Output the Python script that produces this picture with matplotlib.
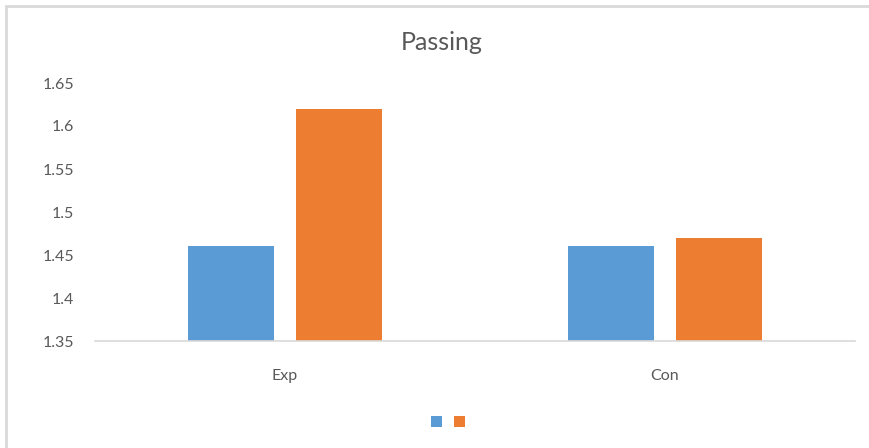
import matplotlib.pyplot as plt
from matplotlib.patches import Patch, Rectangle
import numpy as np

categories = ["Exp", "Con"]
series_a = [1.46, 1.46]
series_b = [1.62, 1.47]
y_ticks = [1.35, 1.4, 1.45, 1.5, 1.55, 1.6, 1.65]
y_tick_labels = ["1.35", "1.4", "1.45", "1.5", "1.55", "1.6", "1.65"]

blue = "#5B9BD5"
orange = "#ED7D31"
text_gray = "#595959"

plt.rcParams["font.family"] = ["Lato", "DejaVu Sans"]

fig = plt.figure(figsize=(8.69, 4.48), dpi=100)
ax = fig.add_axes([95 / 869, 1 - 341 / 448, 760 / 869, 258 / 448])

x = np.arange(len(categories))
width = 0.224
gap = 0.06
ax.bar(x - (width + gap) / 2, series_a, width, color=blue, bottom=0)
ax.bar(x + (width + gap) / 2, series_b, width, color=orange, bottom=0)

ax.set_xlim(-0.5, 1.5)
ax.set_ylim(1.35, 1.65)
ax.set_yticks(y_ticks)
ax.set_yticklabels(y_tick_labels)
ax.set_xticks(x)
ax.set_xticklabels(categories)
ax.tick_params(axis="both", length=0, colors=text_gray, labelsize=11.5)
ax.tick_params(axis="y", pad=15)
ax.tick_params(axis="x", pad=20)

for side in ["top", "right", "left"]:
    ax.spines[side].set_visible(False)
ax.spines["bottom"].set_color("#D9D9D9")
ax.spines["bottom"].set_linewidth(1.2)

fig.text(442 / 869, 1 - 42 / 448, "Passing", ha="center", va="center",
         fontsize=18, color=text_gray)

handles = [Patch(facecolor=blue), Patch(facecolor=orange)]
fig.legend(handles, ["", ""], loc="center", bbox_to_anchor=(448 / 869, 1 - 422 / 448),
           ncol=2, frameon=False, handlelength=0.8, handleheight=0.8,
           columnspacing=0.8, handletextpad=0.0)

# chart border
fig.patches.append(Rectangle((6 / 869, -0.1), 1.2, 1 - 6 / 448 + 0.1,
                             transform=fig.transFigure, fill=False,
                             edgecolor="#D9D9D9", linewidth=2))

fig.savefig("out.png", dpi=100)
